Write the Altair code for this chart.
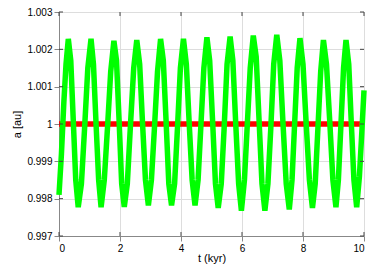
import altair as alt
import pandas as pd

# green series: a(t) in au
green_t = [
    0.00, 0.08, 0.16, 0.23,
    0.305, 0.386, 0.468, 0.549, 0.63, 0.735, 0.84, 0.945,
    1.05, 1.13, 1.215, 1.30, 1.38, 1.485, 1.59, 1.695,
    1.80, 1.885, 1.97, 2.055, 2.14, 2.24, 2.345, 2.45,
    2.55, 2.645, 2.74, 2.835, 2.93, 3.03, 3.13, 3.23,
    3.33, 3.42, 3.51, 3.60, 3.69, 3.79, 3.885, 3.98,
    4.08, 4.175, 4.27, 4.365, 4.46, 4.56, 4.655, 4.75,
    4.85, 4.94, 5.035, 5.13, 5.22, 5.32, 5.415, 5.51,
    5.61, 5.70, 5.795, 5.89, 5.98, 6.08, 6.175, 6.27,
    6.37, 6.465, 6.56, 6.655, 6.75, 6.85, 6.945, 7.04,
    7.14, 7.24, 7.345, 7.45, 7.55, 7.64, 7.725, 7.81,
    7.90, 8.00, 8.105, 8.21, 8.31, 8.40, 8.49, 8.58,
    8.67, 8.77, 8.875, 8.98, 9.08, 9.16, 9.245, 9.33,
    9.41, 9.50, 9.585, 9.67, 9.76, 9.85, 9.93, 10.0,
]
green_a = [
    0.9981, 0.9992, 1.0006, 1.0016,
    1.00228, 1.0017, 1.0001, 0.9985, 0.99777, 0.9984, 0.9999, 1.0015,
    1.00228, 1.0016, 1.0000, 0.9985, 0.99777, 0.9985, 0.9999, 1.0014,
    1.00223, 1.0017, 1.0001, 0.9984, 0.99778, 0.9984, 1.0000, 1.0015,
    1.00225, 1.0016, 1.0000, 0.9985, 0.99782, 0.9985, 0.9999, 1.0014,
    1.00228, 1.0017, 1.0001, 0.9984, 0.99782, 0.9984, 0.9999, 1.0015,
    1.00228, 1.0016, 1.0000, 0.9985, 0.99782, 0.9985, 1.0000, 1.0015,
    1.00232, 1.0017, 1.0001, 0.9984, 0.99775, 0.9984, 0.9999, 1.0016,
    1.00234, 1.0017, 1.0000, 0.9984, 0.99768, 0.9985, 1.0000, 1.0015,
    1.00237, 1.0018, 1.0001, 0.9984, 0.99768, 0.9984, 0.9999, 1.0016,
    1.00239, 1.0017, 1.0000, 0.9984, 0.99771, 0.9985, 1.0000, 1.0015,
    1.0023, 1.0016, 1.0000, 0.9985, 0.99775, 0.9984, 0.9999, 1.0014,
    1.00225, 1.0016, 1.0001, 0.9985, 0.99777, 0.9985, 1.0000, 1.0015,
    1.00225, 1.0016, 1.0000, 0.9985, 0.99777, 0.9986, 0.9998, 1.0009,
]

# red series
red_t = [0.0, 10.0]
red_a = [1.0, 1.0]

x_ticks = [0, 2, 4, 6, 8, 10]
y_ticks = [0.997, 0.998, 0.999, 1.0, 1.001, 1.002, 1.003]

green = pd.DataFrame({"t": green_t, "a": green_a})
red = pd.DataFrame({"t": red_t, "a": red_a})
xt = pd.DataFrame({"t": x_ticks})
yt = pd.DataFrame({"a": y_ticks})

W, H = 305, 224
xscale = alt.Scale(domain=[0, 10], nice=False, zero=False)
yscale = alt.Scale(domain=[0.997, 1.003], nice=False, zero=False)
xaxis = alt.Axis(values=x_ticks, format="~r", title="t (kyr)", titleFontWeight="normal",
                 titleY=22, titleBaseline="middle")
yaxis = alt.Axis(values=y_ticks, format="~r", title="a [au]", titleFontWeight="normal")


def X(f="t"):
    return alt.X(f, type="quantitative", scale=xscale, axis=xaxis)


def Y(f="a"):
    return alt.Y(f, type="quantitative", scale=yscale, axis=yaxis)


red_line = alt.Chart(red).mark_line(color="#ff0000", strokeWidth=5.5).encode(x=X(), y=Y())
green_line = alt.Chart(green).mark_line(color="#00ff00", strokeWidth=5.5).encode(x=X(), y=Y())

tick_col = "#444444"
bt = alt.Chart(xt).mark_rule(color=tick_col).encode(x=X(), y=alt.value(H), y2=alt.value(H - 4))
tt = alt.Chart(xt).mark_rule(color=tick_col).encode(x=X(), y=alt.value(0), y2=alt.value(4))
lt = alt.Chart(yt).mark_rule(color=tick_col).encode(y=Y(), x=alt.value(0), x2=alt.value(4))
rt = alt.Chart(yt).mark_rule(color=tick_col).encode(y=Y(), x=alt.value(W), x2=alt.value(W - 4))

chart = (
    alt.layer(red_line, green_line, bt, tt, lt, rt)
    .properties(
        width=W,
        height=H,
        autosize=alt.AutoSizeParams(type="none"),
        padding={"left": 51, "top": 4, "right": 10, "bottom": 30},
    )
    .configure_view(stroke="#555555", strokeWidth=1)
    .configure_axis(
        ticks=False,
        domain=False,
        grid=False,
        labelFont="Liberation Sans",
        labelFontSize=11,
        labelColor="#000000",
        titleFont="Liberation Sans",
        titleFontSize=11,
        titleFontWeight="normal",
        titleColor="#000000",
    )
    .configure_axisX(labelPadding=5)
    .configure_axisY(labelPadding=6, titlePadding=14)
    .configure(background="white")
)

chart.save("out.html", embed_options={"renderer": "svg", "actions": False})
